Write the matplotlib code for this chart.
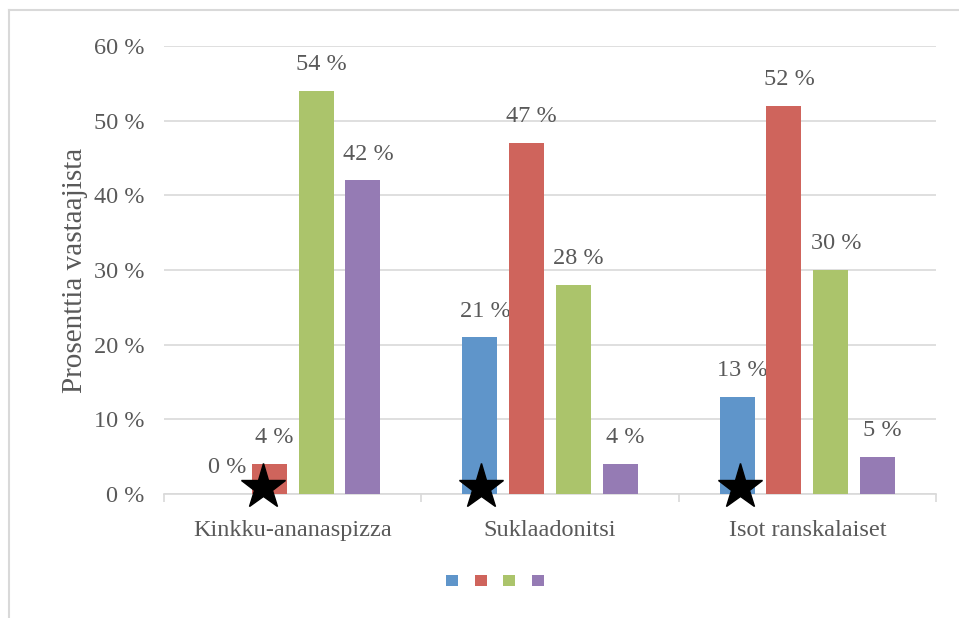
import matplotlib.pyplot as plt
import numpy as np
from matplotlib.lines import Line2D

categories = ["Kinkku-ananaspizza", "Suklaadonitsi", "Isot ranskalaiset"]
series_values = [
    [0, 21, 13],   # blue
    [4, 47, 52],   # red
    [54, 28, 30],  # green
    [42, 4, 5],    # purple
]
colors = ["#5F95CA", "#CF645C", "#ABC46B", "#957BB4"]
star_positions = [-0.116, -0.267, -0.26]  # offset from category centre
y_ticks = [0, 10, 20, 30, 40, 50, 60]
y_label = "Prosenttia vastaajista"

text_color = "#595959"
grid_color = "#D9D9D9"
font = "Liberation Serif"
fs = 17.5

fig = plt.figure(figsize=(9.59, 6.18), dpi=100)
ax = fig.add_axes([164 / 959, 1 - 494 / 618, (936 - 164) / 959, (494 - 46) / 618])

x = np.arange(len(categories))
width = 0.136
step = 0.182
handles = []
for i, vals in enumerate(series_values):
    pos = x + (i - 1.5) * step
    b = ax.bar(pos, vals, width, color=colors[i], zorder=3)
    handles.append(b)
    for px, v in zip(pos, vals):
        ax.text(px + 0.02, v + 2.1, f"{v} %", ha="center", va="bottom",
                fontsize=fs, color=text_color, family=font)

# stars marking the expected answer
ax.plot(x + np.array(star_positions), [0.9] * 3, linestyle="none", marker="*",
        markersize=34, color="black", zorder=5, clip_on=False)

ax.set_xlim(-0.5, len(categories) - 0.5)
ax.set_ylim(0, 60)
ax.set_yticks(y_ticks)
ax.set_yticklabels([f"{t} %" for t in y_ticks], family=font, fontsize=fs, color=text_color)
ax.set_xticks(x)
ax.set_xticklabels(categories, family=font, fontsize=fs, color=text_color)
ax.set_xticks(np.arange(-0.5, len(categories)), minor=True)
ax.tick_params(axis="x", which="major", length=0, pad=19)
ax.tick_params(axis="x", which="minor", length=6, color=grid_color, width=1.2)
ax.tick_params(axis="y", length=0, pad=14)
ax.yaxis.grid(True, color=grid_color, linewidth=1.2, zorder=0)
for s in ["top", "right", "left"]:
    ax.spines[s].set_visible(False)
ax.spines["bottom"].set_color(grid_color)
ax.spines["bottom"].set_linewidth(1.2)
ax.set_ylabel(y_label, family=font, fontsize=21, color=text_color, labelpad=4)

fig.legend(handles, [""] * 4, ncol=4, loc="center", bbox_to_anchor=(495 / 959, 1 - 581 / 618),
           frameon=False, handlelength=0.85, handleheight=0.85, handletextpad=0,
           columnspacing=1.2, fontsize=10)

# outer chart border
fig.add_artist(Line2D([9 / 959, 9 / 959], [0, 1 - 10 / 618], color="#D9D9D9", linewidth=1.5))
fig.add_artist(Line2D([9 / 959, 1], [1 - 10 / 618, 1 - 10 / 618], color="#D9D9D9", linewidth=1.5))

fig.savefig("out.png", dpi=100)
